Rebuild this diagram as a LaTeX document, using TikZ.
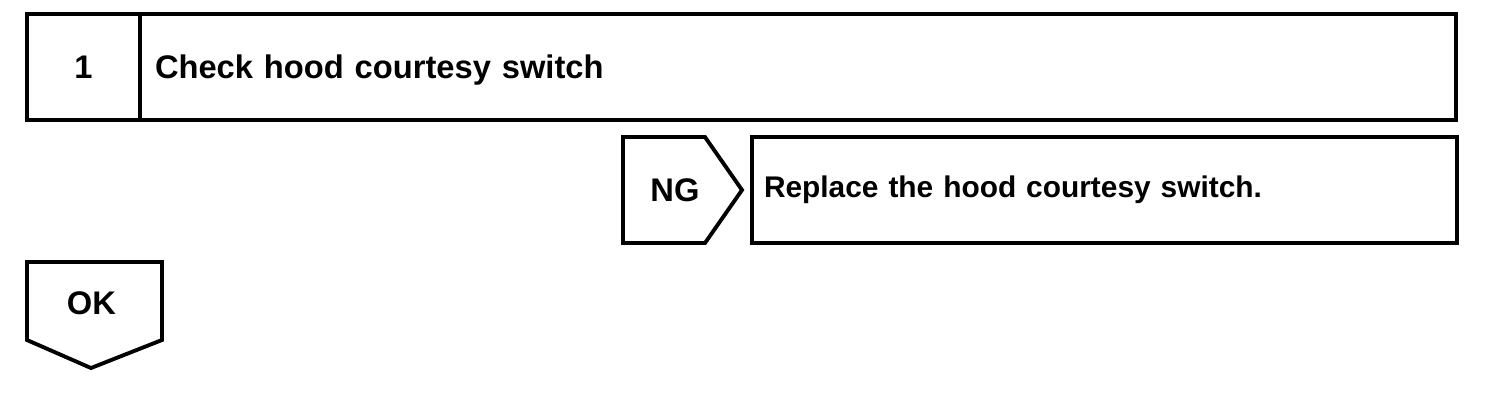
\documentclass[tikz,border=0pt]{standalone}
\usepackage{fontspec}
\setmainfont{Liberation Sans}
\usetikzlibrary{positioning}
\tikzset{cell/.style={draw, line width=1.1pt, rectangle, inner sep=0pt, outer sep=0pt, anchor=north west},
  lbl/.style={font=\bfseries\fontsize{9.3}{11}\selectfont},
  lbls/.style={font=\bfseries\fontsize{8.5}{10}\selectfont},
  tag/.style={draw, line width=1.1pt, line join=miter}}

\begin{document}
\begin{tikzpicture}
\useasboundingbox (0,0) rectangle (15.04,-4);
% step header
\node[cell, lbl, minimum width=1.13cm, minimum height=1.06cm] (num) at (0.27,-0.14) {1};
\node[cell, lbl, minimum height=1.06cm, inner xsep=0.15cm, text width=12.86cm, text depth=0pt, align=left] (check) at (num.north east) {Check hood courtesy switch};
% NG branch
\draw[tag] (6.23,-1.37) -- (7.05,-1.37) -- (7.42,-1.90) -- (7.05,-2.43) -- (6.23,-2.43) -- cycle;
\node[lbl] (ng) at (6.75,-1.90) {NG};
\node[cell, lbls, minimum height=1.06cm, inner xsep=0.12cm, text width=6.81cm, align=left] (repl) at (7.52,-1.37) {Replace the hood courtesy switch.};
% OK branch
\draw[tag] (0.27,-2.62) -- (1.62,-2.62) -- (1.62,-3.40) -- (0.91,-3.68) -- (0.27,-3.40) -- cycle;
\node[lbl] (ok) at (0.915,-3.03) {OK};
\end{tikzpicture}
\end{document}
